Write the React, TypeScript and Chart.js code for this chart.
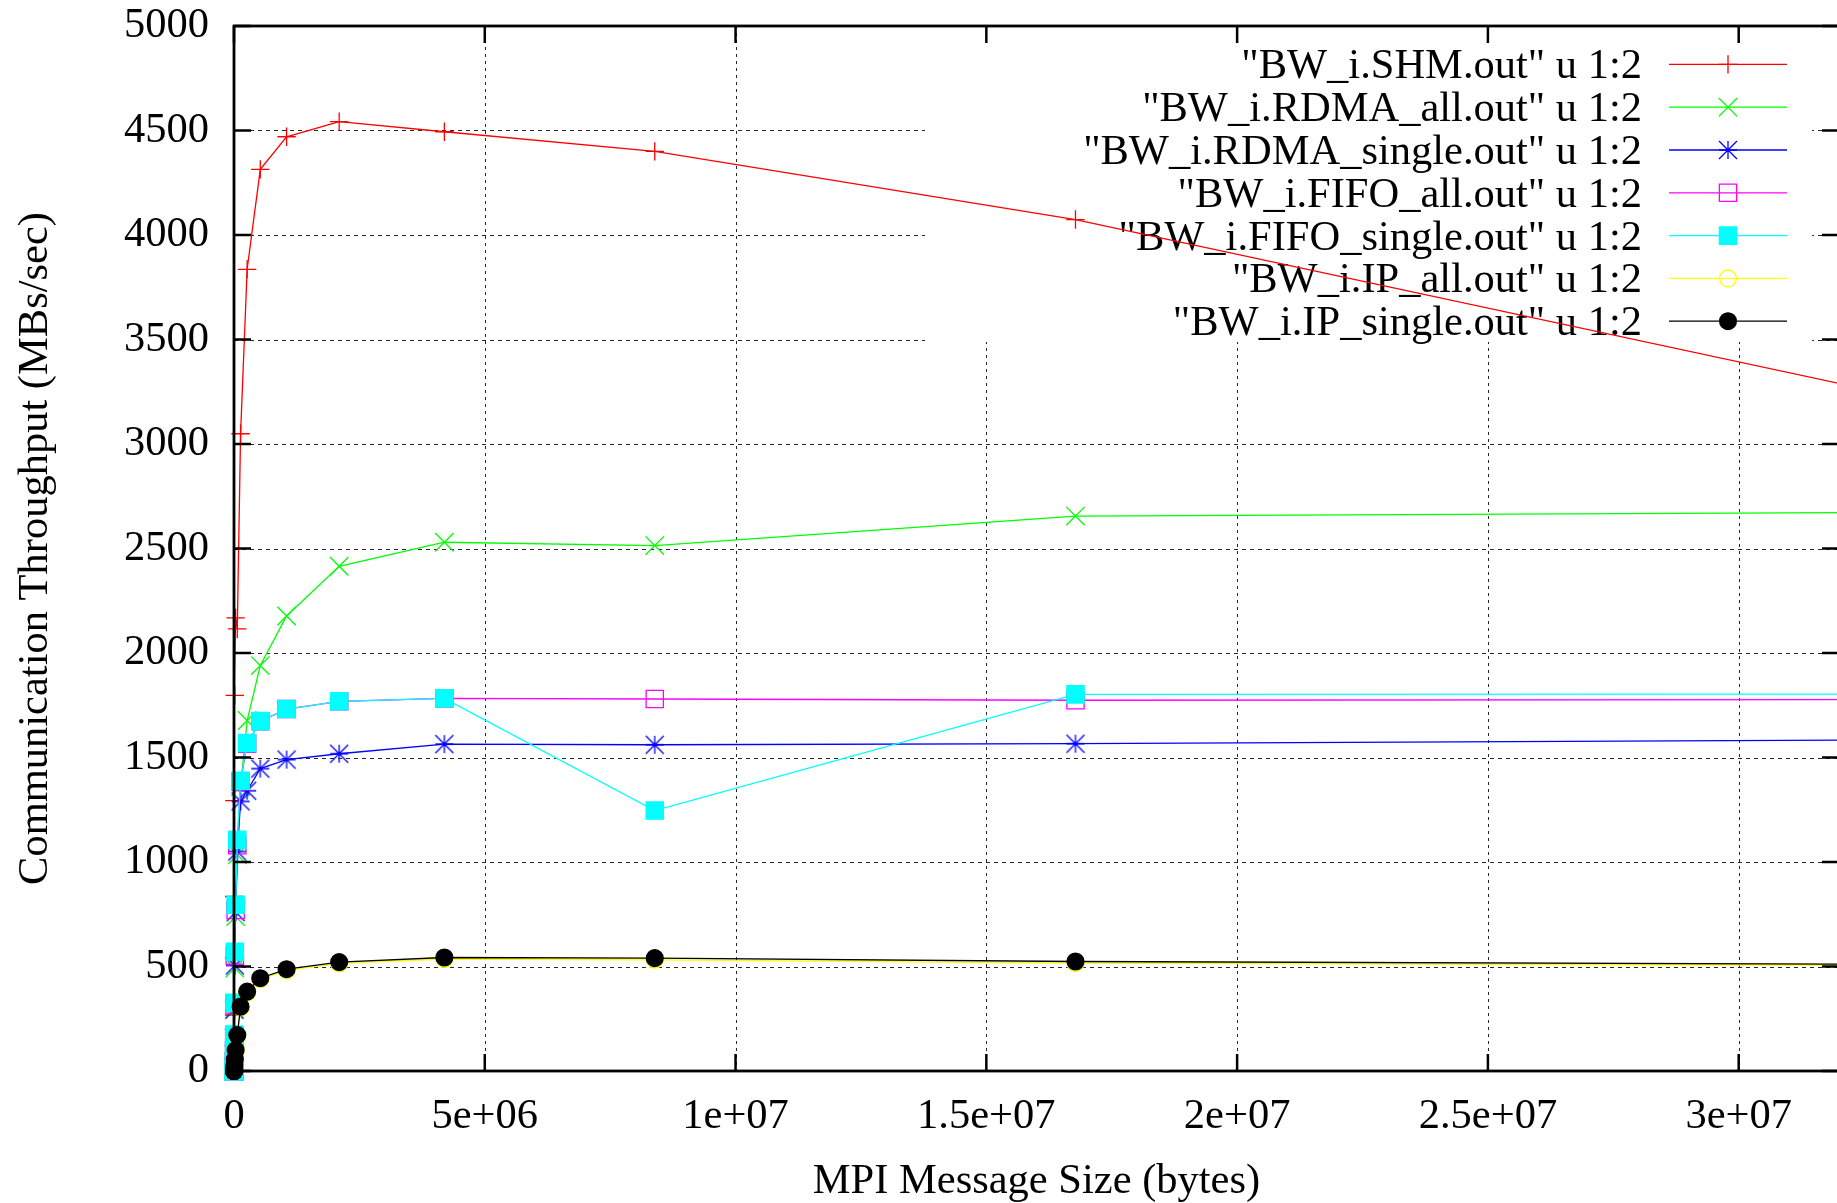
import React, { useEffect, useRef } from 'react';
import { Chart, registerables } from 'chart.js';
import { drawPoint } from 'chart.js/helpers';

Chart.register(...registerables);

// ---------------- data ----------------
const msgSizes = [1, 2, 4, 8, 16, 32, 64, 128, 256, 512, 1024, 2048, 4096, 8192, 16384, 32768, 65536, 131072, 262144, 524288, 1048576, 2097152, 4194304, 8388608, 16777216, 33554432];

const shmValues = [0.3, 0.6, 1.2, 2.4, 4.8, 9.6, 19, 37, 72, 140, 268, 540, 835, 1294, 1797, 2168, 2115, 3049, 3836, 4314, 4470, 4542, 4494, 4400, 4074, 3210];
const rdmaAllValues = [0.05, 0.09, 0.18, 0.35, 0.7, 1.4, 2.8, 5.6, 11, 22, 43, 84, 160, 292, 492, 739, 1034, 1360, 1677, 1940, 2177, 2415, 2530, 2514, 2655, 2673];
const rdmaSingleValues = [0.04, 0.08, 0.17, 0.33, 0.67, 1.3, 2.7, 5.3, 10.6, 21, 42, 82, 158, 295, 505, 760, 1050, 1290, 1341, 1447, 1490, 1518, 1564, 1561, 1566, 1585];
const fifoAllValues = [0.05, 0.1, 0.2, 0.4, 0.8, 1.6, 3.2, 6.3, 12.5, 25, 48, 92, 170, 318, 552, 770, 1080, 1385, 1566, 1673, 1732, 1769, 1783, 1780, 1774, 1777];
const fifoSingleValues = [0.05, 0.11, 0.21, 0.43, 0.85, 1.7, 3.3, 6.5, 13, 26, 50, 95, 175, 326, 571, 795, 1106, 1389, 1569, 1674, 1732, 1769, 1783, 1246, 1802, 1803];
const ipAllValues = [0.005, 0.009, 0.018, 0.035, 0.07, 0.14, 0.28, 0.56, 1.1, 2.2, 4.3, 8.3, 15.5, 29, 54, 97, 168, 304, 376, 440, 482, 515, 536, 532, 516, 505];
const ipSingleValues = [0.005, 0.009, 0.018, 0.035, 0.07, 0.14, 0.28, 0.56, 1.1, 2.2, 4.4, 8.5, 16, 30, 56, 100, 172, 308, 380, 444, 487, 521, 543, 540, 524, 510];

const seriesLabels = [
  '"BW_i.SHM.out" u 1:2',
  '"BW_i.RDMA_all.out" u 1:2',
  '"BW_i.RDMA_single.out" u 1:2',
  '"BW_i.FIFO_all.out" u 1:2',
  '"BW_i.FIFO_single.out" u 1:2',
  '"BW_i.IP_all.out" u 1:2',
  '"BW_i.IP_single.out" u 1:2',
];

const xTickValues = [0, 5e6, 1e7, 1.5e7, 2e7, 2.5e7, 3e7];
const xTickLabels = ['0', '5e+06', '1e+07', '1.5e+07', '2e+07', '2.5e+07', '3e+07'];
const yTickValues = [0, 500, 1000, 1500, 2000, 2500, 3000, 3500, 4000, 4500, 5000];
const yTickLabels = ['0', '500', '1000', '1500', '2000', '2500', '3000', '3500', '4000', '4500', '5000'];

const xTitle = 'MPI Message Size (bytes)';
const yTitle = 'Communication Throughput (MBs/sec)';

// ---------------- styling ----------------
const FONT = '"Liberation Serif", "Times New Roman", serif';
const FONT_SIZE = 42.5;
const CANVAS_W = 1840;
const CANVAS_H = 1203;

function makeAsterisk(color: string, h: number, lw: number) {
  const c = document.createElement('canvas');
  const s = Math.ceil(2 * h + 4);
  c.width = s;
  c.height = s;
  const g = c.getContext('2d')!;
  const m = s / 2;
  g.strokeStyle = color;
  g.lineWidth = lw;
  g.beginPath();
  g.moveTo(m - h, m); g.lineTo(m + h, m);
  g.moveTo(m, m - h); g.lineTo(m, m + h);
  g.moveTo(m - h, m - h); g.lineTo(m + h, m + h);
  g.moveTo(m - h, m + h); g.lineTo(m + h, m - h);
  g.stroke();
  return c;
}

const KEY_RECT = { left: 925, right: 1812, bottom: 342 };
const KEY_TEXT_RIGHT = 1642;
const KEY_SAMPLE_L = 1669;
const KEY_SAMPLE_R = 1787;
const KEY_ROW0 = 64.4;
const KEY_ROW_STEP = 42.8;

const gnuplotPlugin = {
  id: 'gnuplotFrame',
  beforeDatasetsDraw(chart: any) {
    const { ctx, chartArea: a } = chart;
    const xs = chart.scales.x;
    const ys = chart.scales.y;
    ctx.save();
    // grid, skipping key region
    ctx.beginPath();
    ctx.rect(0, 0, chart.width, chart.height);
    ctx.rect(KEY_RECT.left, 0, KEY_RECT.right - KEY_RECT.left, KEY_RECT.bottom);
    ctx.clip('evenodd');
    ctx.strokeStyle = 'rgba(0,0,0,0.85)';
    ctx.lineWidth = 1;
    ctx.setLineDash([4, 4]);
    for (const v of yTickValues) {
      if (v === ys.min || v === ys.max) continue;
      const py = Math.round(ys.getPixelForValue(v)) + 0.5;
      ctx.beginPath();
      ctx.moveTo(a.left, py);
      ctx.lineTo(a.right, py);
      ctx.stroke();
    }
    ctx.setLineDash([3, 4]);
    for (const v of xTickValues) {
      if (v === xs.min) continue;
      const px = Math.round(xs.getPixelForValue(v)) + 0.5;
      ctx.beginPath();
      ctx.moveTo(px, a.top);
      ctx.lineTo(px, a.bottom);
      ctx.stroke();
    }
    ctx.restore();

    // key
    ctx.save();
    ctx.font = `${FONT_SIZE}px ${FONT}`;
    ctx.textAlign = 'right';
    ctx.textBaseline = 'alphabetic';
    chart.data.datasets.forEach((ds: any, i: number) => {
      const rowY = KEY_ROW0 + i * KEY_ROW_STEP;
      ctx.fillStyle = '#000';
      ctx.fillText(ds.label, KEY_TEXT_RIGHT, rowY + 14);
      ctx.strokeStyle = ds.borderColor;
      ctx.lineWidth = ds.borderWidth;
      ctx.setLineDash([]);
      ctx.beginPath();
      ctx.moveTo(KEY_SAMPLE_L, rowY);
      ctx.lineTo(KEY_SAMPLE_R, rowY);
      ctx.stroke();
      ctx.strokeStyle = ds.pointBorderColor;
      ctx.fillStyle = ds.pointBackgroundColor;
      ctx.lineWidth = ds.pointBorderWidth;
      drawPoint(ctx, { pointStyle: ds.pointStyle, rotation: 0, radius: ds.pointRadius, borderWidth: ds.pointBorderWidth }, (KEY_SAMPLE_L + KEY_SAMPLE_R) / 2, rowY);
    });
    ctx.restore();
  },
  afterDatasetsDraw(chart: any) {
    const { ctx, chartArea: a } = chart;
    const xs = chart.scales.x;
    const ys = chart.scales.y;
    const tick = 17;
    ctx.save();
    ctx.strokeStyle = '#000';
    ctx.lineWidth = 2.5;
    ctx.setLineDash([]);
    ctx.beginPath();
    for (const v of yTickValues) {
      const py = ys.getPixelForValue(v);
      ctx.moveTo(a.left, py); ctx.lineTo(a.left + tick, py);
      ctx.moveTo(a.right, py); ctx.lineTo(a.right - tick, py);
    }
    for (const v of xTickValues) {
      const px = xs.getPixelForValue(v);
      ctx.moveTo(px, a.bottom); ctx.lineTo(px, a.bottom - tick);
      ctx.moveTo(px, a.top); ctx.lineTo(px, a.top + tick);
    }
    ctx.stroke();
    ctx.lineWidth = 2.8;
    ctx.strokeRect(a.left, a.top, a.right - a.left, a.bottom - a.top);
    ctx.restore();
  },
};

function toPoints(values: number[]) {
  return msgSizes.map((s, i) => ({ x: s, y: values[i] }));
}

function zeroPadding(s: any) {
  s.paddingTop = 0;
  s.paddingBottom = 0;
  s.paddingLeft = 0;
  s.paddingRight = 0;
}

export default function App() {
  const ref = useRef<HTMLCanvasElement | null>(null);

  useEffect(() => {
    if (!ref.current) return;
    const lw = 1.3;
    const asterisk = makeAsterisk('#0000ff', 9, lw);
    const mk = (label: string, values: number[], color: string, style: any, radius: number, fill: string, order: number) => ({
      label,
      data: toPoints(values),
      borderColor: color,
      borderWidth: lw,
      pointStyle: style,
      pointRadius: radius,
      pointBorderColor: color,
      pointBackgroundColor: fill,
      pointBorderWidth: lw,
      pointHoverRadius: radius,
      tension: 0,
      fill: false,
      clip: false as any,
      order,
    });
    const datasets = [
      mk(seriesLabels[0], shmValues, '#ff0000', 'cross', 9.2, '#ff0000', 7),
      mk(seriesLabels[1], rdmaAllValues, '#00ff00', 'crossRot', 13, '#00ff00', 6),
      mk(seriesLabels[2], rdmaSingleValues, '#0000ff', asterisk, 9, '#0000ff', 5),
      mk(seriesLabels[3], fifoAllValues, '#ff00ff', 'rect', 12.2, 'rgba(0,0,0,0)', 4),
      mk(seriesLabels[4], fifoSingleValues, '#00ffff', 'rect', 12.2, '#00ffff', 3),
      mk(seriesLabels[5], ipAllValues, '#ffff00', 'circle', 8.4, 'rgba(0,0,0,0)', 2),
      mk(seriesLabels[6], ipSingleValues, '#000000', 'circle', 8.4, '#000000', 1),
    ];
    const tickFont = { family: FONT, size: FONT_SIZE, lineHeight: 1 };
    const chart = new Chart(ref.current, {
      type: 'line',
      data: { datasets } as any,
      options: {
        animation: false,
        responsive: false,
        devicePixelRatio: 1,
        events: [],
        layout: { autoPadding: false, padding: { left: 0, right: 1, top: 26, bottom: 0 } },
        plugins: { legend: { display: false }, tooltip: { enabled: false } },
        scales: {
          x: {
            type: 'linear',
            min: 0,
            max: 3.2e7,
            afterBuildTicks: (s: any) => { s.ticks = xTickValues.map((v) => ({ value: v })); },
            afterFit: (s: any) => { s.height = 132; zeroPadding(s); },
            grid: { display: false, drawTicks: false },
            border: { display: false },
            ticks: {
              autoSkip: false,
              maxRotation: 0,
              minRotation: 0,
              padding: 25,
              color: '#000',
              font: tickFont,
              callback: (_v: any, i: number) => xTickLabels[i],
            },
            title: { display: true, text: xTitle, color: '#000', font: tickFont, padding: { top: 0, bottom: 0 } },
          },
          y: {
            type: 'linear',
            min: 0,
            max: 5000,
            afterBuildTicks: (s: any) => { s.ticks = yTickValues.map((v) => ({ value: v })); },
            afterFit: (s: any) => { s.width = 234; zeroPadding(s); },
            grid: { display: false, drawTicks: false },
            border: { display: false },
            ticks: {
              padding: 25,
              color: '#000',
              font: tickFont,
              callback: (_v: any, i: number) => yTickLabels[i],
            },
            title: { display: true, text: yTitle, color: '#000', font: tickFont, padding: { top: 15, bottom: 0 } },
          },
        },
      } as any,
      plugins: [gnuplotPlugin],
    });
    return () => chart.destroy();
  }, []);

  return (
    <div style={{ position: 'fixed', left: 0, top: 0, width: 1837, height: 1203, overflow: 'hidden', background: '#ffffff' }}>
      <canvas ref={ref} width={CANVAS_W} height={CANVAS_H} style={{ width: CANVAS_W, height: CANVAS_H, display: 'block' }} />
    </div>
  );
}
